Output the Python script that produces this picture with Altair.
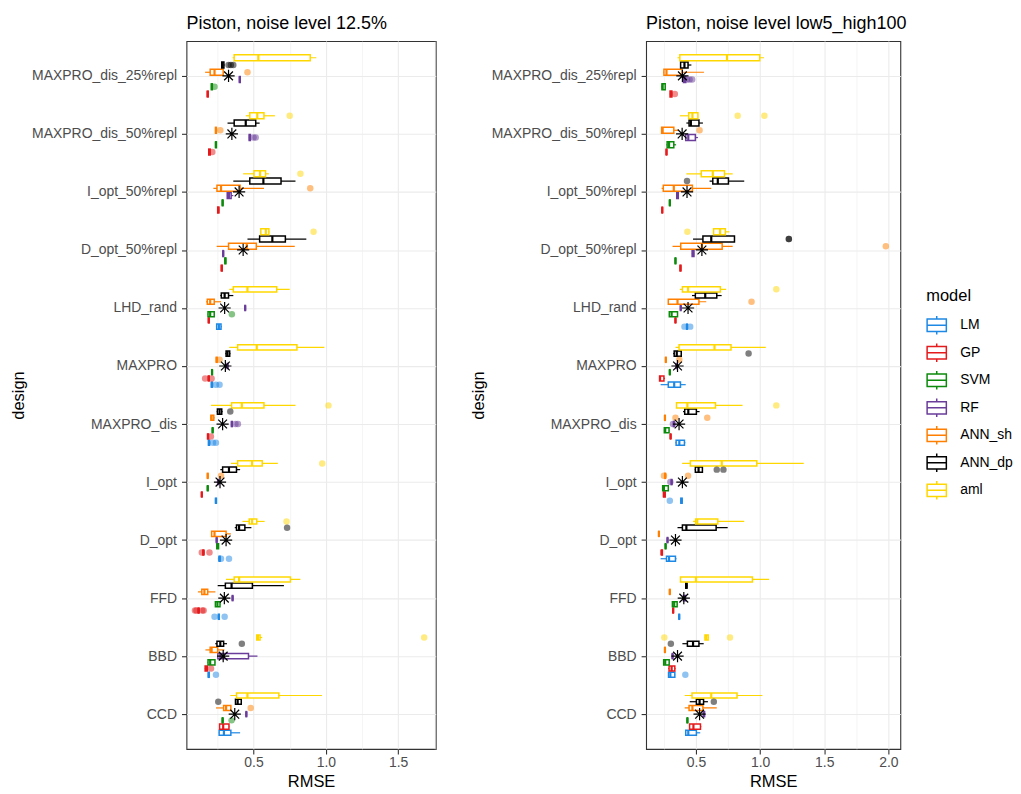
import json
import altair as alt
import pandas as pd

# ---------------- data ----------------
DESIGNS = ["MAXPRO_dis_25%repl", "MAXPRO_dis_50%repl", "I_opt_50%repl", "D_opt_50%repl",
           "LHD_rand", "MAXPRO", "MAXPRO_dis", "I_opt", "D_opt", "FFD", "BBD", "CCD"]
MODELS = ["LM", "GP", "SVM", "RF", "ANN_sh", "ANN_dp", "aml"]
COLORS = ["#1E88E5", "#E41A1C", "#0B8A0B", "#6A3D9A", "#FF7F00", "#000000", "#FFD700"]

TITLE_L = "Piston, noise level 12.5%"
TITLE_R = "Piston, noise level low5_high100"

# (lower whisker, q1, median, q3, upper whisker) per design, top to bottom
L_LM = [None, None, None, None,
        (0.24, 0.245, 0.26, 0.275, 0.28), (0.205, 0.208, 0.212, 0.216, 0.22),
        (0.185, 0.188, 0.192, 0.196, 0.2), (0.235, 0.237, 0.24, 0.243, 0.245),
        (0.26, 0.262, 0.265, 0.268, 0.27), (0.255, 0.257, 0.26, 0.263, 0.265),
        (0.185, 0.187, 0.19, 0.193, 0.195), (0.26, 0.262, 0.295, 0.343, 0.407)]
L_GP = [(0.178, 0.18, 0.183, 0.186, 0.188), (0.188, 0.19, 0.195, 0.2, 0.202),
        (0.25, 0.252, 0.256, 0.26, 0.262), (0.275, 0.277, 0.28, 0.283, 0.285),
        (0.186, 0.188, 0.19, 0.193, 0.195), (0.185, 0.187, 0.19, 0.193, 0.195),
        (0.18, 0.182, 0.185, 0.188, 0.19), (0.138, 0.14, 0.142, 0.144, 0.146),
        (0.148, 0.15, 0.153, 0.156, 0.158), (0.115, 0.117, 0.12, 0.123, 0.125),
        (0.163, 0.165, 0.172, 0.18, 0.183), (0.262, 0.265, 0.29, 0.33, 0.332)]
L_SVM = [(0.207, 0.208, 0.212, 0.215, 0.217), (0.235, 0.237, 0.24, 0.243, 0.245),
         (0.282, 0.284, 0.286, 0.288, 0.29), (0.3, 0.302, 0.305, 0.308, 0.31),
         (0.183, 0.185, 0.2, 0.228, 0.23), (0.209, 0.211, 0.213, 0.215, 0.217),
         (0.213, 0.215, 0.217, 0.219, 0.221), (0.179, 0.181, 0.183, 0.185, 0.187),
         (0.244, 0.246, 0.252, 0.258, 0.26), (0.234, 0.236, 0.25, 0.268, 0.27),
         (0.183, 0.185, 0.2, 0.233, 0.235), (0.282, 0.284, 0.286, 0.288, 0.29)]
L_RF = [(0.4, 0.402, 0.405, 0.408, 0.41), (0.468, 0.47, 0.474, 0.478, 0.48),
        (0.316, 0.318, 0.33, 0.345, 0.36), (0.286, 0.288, 0.29, 0.292, 0.294),
        (0.438, 0.44, 0.442, 0.444, 0.446), (0.316, 0.318, 0.32, 0.322, 0.324),
        (0.345, 0.347, 0.35, 0.353, 0.355), (0.25, 0.252, 0.255, 0.258, 0.26),
        (0.241, 0.243, 0.245, 0.247, 0.249), (0.351, 0.353, 0.355, 0.357, 0.359),
        (0.252, 0.253, 0.27, 0.465, 0.527), (0.446, 0.448, 0.45, 0.452, 0.454)]
L_ANN_SH = [(0.165, 0.2, 0.23, 0.29, 0.3), (0.235, 0.237, 0.24, 0.243, 0.245),
            (0.222, 0.247, 0.275, 0.407, 0.572), (0.245, 0.327, 0.453, 0.519, 0.785),
            (0.172, 0.18, 0.2, 0.228, 0.275), (0.24, 0.242, 0.245, 0.248, 0.25),
            (0.2, 0.205, 0.21, 0.225, 0.23), (0.179, 0.181, 0.183, 0.185, 0.187),
            (0.206, 0.21, 0.23, 0.31, 0.343), (0.115, 0.142, 0.16, 0.183, 0.236),
            (0.167, 0.2, 0.21, 0.252, 0.298), (0.24, 0.293, 0.31, 0.343, 0.343)]
L_ANN_DP = [(0.275, 0.28, 0.285, 0.295, 0.3), (0.32, 0.366, 0.446, 0.515, 0.542),
            (0.36, 0.474, 0.568, 0.69, 0.79), (0.458, 0.542, 0.63, 0.72, 0.865),
            (0.27, 0.277, 0.3, 0.327, 0.36), (0.305, 0.31, 0.32, 0.335, 0.34),
            (0.245, 0.25, 0.265, 0.28, 0.286), (0.27, 0.286, 0.33, 0.382, 0.407),
            (0.37, 0.382, 0.4, 0.44, 0.485), (0.252, 0.305, 0.348, 0.492, 0.71),
            (0.235, 0.247, 0.27, 0.293, 0.316), (0.373, 0.375, 0.39, 0.415, 0.419)]
L_AML = [(0.355, 0.366, 0.533, 0.892, 0.934), (0.446, 0.474, 0.526, 0.572, 0.648),
         (0.428, 0.503, 0.545, 0.583, 0.606), (0.545, 0.55, 0.585, 0.606, 0.61),
         (0.332, 0.36, 0.458, 0.66, 0.75), (0.332, 0.39, 0.522, 0.8, 0.99),
         (0.206, 0.348, 0.419, 0.572, 0.79), (0.343, 0.39, 0.49, 0.56, 0.668),
         (0.423, 0.47, 0.49, 0.522, 0.577), (0.309, 0.366, 0.4, 0.755, 0.824),
         (0.52, 0.522, 0.53, 0.545, 0.56), (0.339, 0.382, 0.458, 0.675, 0.973)]
L_OUT = [(0, "ANN_dp", 0.327), (0, "ANN_dp", 0.343), (0, "ANN_dp", 0.36), (0, "ANN_sh", 0.458),
         (0, "SVM", 0.23), (1, "aml", 0.75), (1, "ANN_sh", 0.27), (1, "RF", 0.5), (1, "RF", 0.515),
         (1, "GP", 0.215), (2, "aml", 0.824), (2, "ANN_sh", 0.892), (3, "aml", 0.915),
         (4, "SVM", 0.35), (5, "ANN_sh", 0.265), (5, "GP", 0.165), (5, "GP", 0.21),
         (5, "LM", 0.24), (5, "LM", 0.265), (6, "aml", 1.018), (6, "ANN_dp", 0.339),
         (6, "RF", 0.375), (6, "RF", 0.392), (6, "GP", 0.205), (6, "LM", 0.22), (6, "LM", 0.24),
         (7, "aml", 0.975), (7, "ANN_sh", 0.275), (8, "aml", 0.728), (8, "ANN_dp", 0.732),
         (8, "GP", 0.142), (8, "GP", 0.195), (8, "LM", 0.33), (8, "LM", 0.275),
         (9, "GP", 0.095), (9, "GP", 0.105), (9, "GP", 0.145), (9, "GP", 0.155),
         (9, "LM", 0.23), (9, "LM", 0.3), (10, "aml", 1.68), (10, "ANN_dp", 0.419),
         (10, "GP", 0.206), (10, "LM", 0.24), (11, "ANN_dp", 0.256), (11, "ANN_sh", 0.48),
         (11, "SVM", 0.348)]
L_STAR = [0.327, 0.35, 0.4, 0.428, 0.3, 0.305, 0.286, 0.268, 0.31, 0.298, 0.29, 0.37]

R_LM = [None, None, None, None,
        (0.425, 0.427, 0.43, 0.433, 0.435), (0.224, 0.284, 0.33, 0.379, 0.42),
        (0.34, 0.345, 0.37, 0.41, 0.417), (0.38, 0.382, 0.387, 0.392, 0.395),
        (0.224, 0.27, 0.29, 0.34, 0.348), (0.365, 0.367, 0.369, 0.371, 0.373),
        (0.284, 0.286, 0.3, 0.335, 0.337), (0.42, 0.42, 0.44, 0.503, 0.533)]
R_GP = [(0.296, 0.298, 0.305, 0.312, 0.315), (0.266, 0.268, 0.27, 0.272, 0.274),
        (0.233, 0.235, 0.237, 0.239, 0.241), (0.374, 0.376, 0.379, 0.382, 0.384),
        (0.336, 0.338, 0.34, 0.342, 0.344), (0.214, 0.216, 0.22, 0.25, 0.258),
        (0.298, 0.3, 0.302, 0.304, 0.306), (0.245, 0.247, 0.25, 0.26, 0.262),
        (0.228, 0.23, 0.232, 0.238, 0.24), (0.318, 0.32, 0.322, 0.324, 0.326),
        (0.284, 0.29, 0.31, 0.335, 0.34), (0.446, 0.45, 0.48, 0.535, 0.541)]
R_SVM = [(0.232, 0.235, 0.24, 0.26, 0.262), (0.27, 0.275, 0.29, 0.327, 0.345),
         (0.292, 0.294, 0.296, 0.298, 0.3), (0.336, 0.338, 0.34, 0.342, 0.344),
         (0.289, 0.292, 0.31, 0.356, 0.358), (0.292, 0.294, 0.296, 0.298, 0.3),
         (0.25, 0.253, 0.26, 0.29, 0.292), (0.237, 0.24, 0.25, 0.284, 0.286),
         (0.259, 0.261, 0.263, 0.265, 0.267), (0.314, 0.316, 0.33, 0.353, 0.355),
         (0.245, 0.248, 0.26, 0.291, 0.293), (0.429, 0.431, 0.433, 0.435, 0.437)]
R_RF = [(0.4, 0.402, 0.41, 0.42, 0.425), (0.418, 0.42, 0.44, 0.495, 0.515),
        (0.348, 0.35, 0.356, 0.362, 0.365), (0.468, 0.47, 0.477, 0.484, 0.486),
        (0.377, 0.379, 0.381, 0.383, 0.385), (0.344, 0.346, 0.348, 0.35, 0.352),
        (0.323, 0.325, 0.327, 0.329, 0.331), (0.306, 0.308, 0.31, 0.312, 0.314),
        (0.274, 0.276, 0.278, 0.28, 0.282), (0.4, 0.402, 0.41, 0.418, 0.42),
        (0.313, 0.315, 0.317, 0.319, 0.321), (0.555, 0.557, 0.562, 0.567, 0.569)]
R_ANN_SH = [(0.245, 0.25, 0.27, 0.392, 0.562), (0.232, 0.232, 0.24, 0.327, 0.361),
            (0.232, 0.245, 0.327, 0.472, 0.619), (0.317, 0.381, 0.546, 0.704, 0.786),
            (0.284, 0.284, 0.356, 0.523, 0.58), (0.261, 0.263, 0.265, 0.267, 0.269),
            (0.254, 0.256, 0.258, 0.26, 0.262), (0.256, 0.258, 0.26, 0.262, 0.264),
            (0.207, 0.209, 0.211, 0.213, 0.215), (0.292, 0.294, 0.296, 0.298, 0.3),
            (0.254, 0.256, 0.258, 0.26, 0.262), (0.412, 0.446, 0.472, 0.554, 0.662)]
R_ANN_DP = [(0.378, 0.38, 0.41, 0.438, 0.464), (0.425, 0.446, 0.46, 0.523, 0.554),
            (0.606, 0.631, 0.67, 0.753, 0.876), (0.477, 0.554, 0.619, 0.8, 0.8),
            (0.469, 0.495, 0.572, 0.662, 0.7), (0.322, 0.33, 0.35, 0.385, 0.387),
            (0.399, 0.412, 0.44, 0.503, 0.528), (0.49, 0.495, 0.52, 0.55, 0.554),
            (0.356, 0.394, 0.425, 0.657, 0.747), (0.418, 0.42, 0.425, 0.43, 0.432),
            (0.394, 0.433, 0.477, 0.523, 0.56), (0.451, 0.503, 0.528, 0.559, 0.593)]
R_AML = [(0.356, 0.374, 0.742, 0.997, 1.03), (0.374, 0.443, 0.472, 0.515, 0.515),
         (0.425, 0.541, 0.631, 0.722, 0.786), (0.637, 0.637, 0.688, 0.729, 0.76),
         (0.374, 0.394, 0.438, 0.69, 0.735), (0.34, 0.368, 0.644, 0.773, 1.044),
         (0.348, 0.348, 0.433, 0.652, 0.863), (0.392, 0.456, 0.701, 0.974, 1.34),
         (0.477, 0.497, 0.51, 0.67, 0.876), (0.379, 0.379, 0.5, 0.94, 1.07),
         (0.567, 0.57, 0.58, 0.595, 0.6), (0.412, 0.469, 0.619, 0.82, 1.018)]
R_OUT = [(0, "RF", 0.43), (0, "RF", 0.45), (0, "RF", 0.47), (0, "GP", 0.335),
         (1, "aml", 0.825), (1, "aml", 1.033), (1, "ANN_sh", 0.528), (2, "ANN_dp", 0.43),
         (3, "aml", 0.433), (3, "ANN_dp", 1.224), (3, "ANN_dp", 1.224), (3, "ANN_sh", 1.98),
         (4, "aml", 1.126), (4, "ANN_sh", 0.933), (4, "LM", 0.41), (4, "LM", 0.455),
         (5, "ANN_dp", 0.91), (5, "ANN_sh", 0.37), (6, "aml", 1.126), (6, "ANN_sh", 0.34),
         (6, "ANN_sh", 0.588), (6, "RF", 0.32), (7, "ANN_dp", 0.662), (7, "ANN_dp", 0.714),
         (7, "ANN_sh", 0.25), (7, "ANN_sh", 0.438), (7, "RF", 0.3), (7, "LM", 0.296),
         (10, "aml", 0.253), (10, "aml", 0.765), (10, "ANN_dp", 0.304), (10, "LM", 0.417),
         (11, "ANN_dp", 0.639)]
R_STAR = [0.394, 0.392, 0.43, 0.546, 0.438, 0.356, 0.368, 0.394, 0.34, 0.405, 0.356, 0.528]

L_STATS = dict(zip(MODELS, [L_LM, L_GP, L_SVM, L_RF, L_ANN_SH, L_ANN_DP, L_AML]))
R_STATS = dict(zip(MODELS, [R_LM, R_GP, R_SVM, R_RF, R_ANN_SH, R_ANN_DP, R_AML]))

# ---------------- layout helpers ----------------
DODGE = 0.75      # total dodge width per design (ggplot position_dodge)
BOXFRAC = 0.82    # box thickness relative to a dodge slot
ND = len(DESIGNS)


def build(stats, outliers, stars):
    rows, ypos = [], {}
    for i, d in enumerate(DESIGNS):
        present = [m for m in MODELS if stats[m][i] is not None]
        n = len(present)
        slot = DODGE / n
        base = ND - 1 - i
        for k, m in enumerate(present):
            yc = base + (k - (n - 1) / 2) * slot
            lo, q1, med, q3, hi = stats[m][i]
            ypos[(i, m)] = yc
            rows.append(dict(design=d, model=m, lo=lo, q1=q1, med=med, q3=q3, hi=hi,
                             y=yc, y0=yc - BOXFRAC * slot / 2, y1=yc + BOXFRAC * slot / 2))
    out = pd.DataFrame([dict(model=m, value=v, y=ypos[(i, m)]) for i, m, v in outliers])
    st = pd.DataFrame([dict(design=d, value=v, y=ND - 1 - i) for i, (d, v) in enumerate(zip(DESIGNS, stars))])
    return pd.DataFrame(rows), out, st


FONT = "Liberation Sans"
ASTER = "M-1,0H1M0,-1V1M-0.72,-0.72L0.72,0.72M-0.72,0.72L0.72,-0.72"
# boxplot key glyph made only of line segments (no filled area)
BOXGLYPH = ("M-1.07,-0.64H1.07 M1,-0.64V0.64 M1.07,0.64H-1.07 M-1,0.64V-0.64 "
            "M-1,0H1 M0,-0.64V-0.96 M0,0.64V0.96")
YLABELS = json.dumps(list(reversed(DESIGNS))) + "[datum.value]"
MAJOR = "datum.value % 0.5 == 0"

legend = alt.Legend(title="model", orient="none", legendX=742, legendY=248, direction="vertical",
                    symbolType=BOXGLYPH, symbolSize=372, symbolStrokeWidth=1.5, symbolOpacity=1,
                    symbolFillColor="white", labelFontSize=14, labelFont=FONT, labelColor="black",
                    titleFontSize=16.5, titleFont=FONT, titleFontWeight="normal", titleColor="black",
                    labelOffset=13, rowPadding=2.6, titlePadding=10)


def panel(stats, outliers, stars, title, domain, ticks, width):
    box_df, out_df, star_df = build(stats, outliers, stars)
    xs = alt.Scale(domain=domain, nice=False, zero=False)
    ys = alt.Scale(domain=[-0.6, ND - 0.4], nice=False, zero=False)
    xaxis = alt.Axis(values=ticks, labelExpr=f"{MAJOR} ? format(datum.value, '.1f') : ''",
                     labelOverlap=False, labelFlush=False,
                     gridWidth={"condition": {"test": MAJOR, "value": 1.1}, "value": 0.55},
                     tickOpacity={"condition": {"test": MAJOR, "value": 1}, "value": 0},
                     labelPadding=2, titlePadding=4)
    yaxis = alt.Axis(values=list(range(ND)), labelExpr=YLABELS, labelPadding=5, titlePadding=5,
                     gridWidth=1.1)

    def X(f):
        return alt.X(f, type="quantitative", scale=xs, axis=xaxis, title="RMSE")

    def Y(f):
        return alt.Y(f, type="quantitative", scale=ys, axis=yaxis, title="design")

    col = alt.Color("model:N", scale=alt.Scale(domain=MODELS, range=COLORS), legend=legend)
    fill = alt.Fill("model:N", scale=alt.Scale(domain=MODELS, range=COLORS), legend=None)
    base = alt.Chart(box_df)
    whisk = base.mark_rule(strokeWidth=1.2).encode(x=X("lo"), x2="hi", y=Y("y"), color=col)
    boxbg = base.mark_rect(color="white").encode(x=X("q1"), x2="q3", y=Y("y0"), y2="y1")
    box = base.mark_rect(filled=False, strokeWidth=1.5).encode(
        x=X("q1"), x2="q3", y=Y("y0"), y2="y1", color=col)
    med = base.mark_rule(strokeWidth=2.2).encode(x=X("med"), y=Y("y0"), y2="y1", color=col)
    outl = alt.Chart(out_df).mark_circle(size=42, opacity=0.5).encode(x=X("value"), y=Y("y"), fill=fill)
    star = alt.Chart(star_df).mark_point(shape=ASTER, size=150, filled=False, stroke="black",
                                         strokeWidth=1.2, opacity=1).encode(x=X("value"), y=Y("y"))
    return alt.layer(whisk, boxbg, box, med, outl, star).properties(
        width=width, height=710,
        title=alt.Title(title, anchor="start", frame="group", fontSize=18, font=FONT,
                        fontWeight="normal", color="black", offset=8))


left = panel(L_STATS, L_OUT, L_STAR, TITLE_L, [0.036, 1.76],
             [0.25, 0.5, 0.75, 1.0, 1.25, 1.5, 1.75], 250)
right = panel(R_STATS, R_OUT, R_STAR, TITLE_R, [0.111, 2.093],
              [0.25, 0.5, 0.75, 1.0, 1.25, 1.5, 1.75, 2.0], 255)

chart = alt.hconcat(left, right, spacing=32).properties(
    padding={"left": 1, "top": 5, "right": 0, "bottom": 5}
).configure(font=FONT).configure_view(
    stroke="#333333", strokeWidth=1.1
).configure_axis(
    domain=False, grid=True, gridColor="#EBEBEB", tickColor="#333333", tickSize=5, tickWidth=1.1,
    labelFont=FONT, labelFontSize=14, labelColor="#4D4D4D",
    titleFont=FONT, titleFontSize=16.5, titleFontWeight="normal", titleColor="black"
)

chart.save("out.html", embed_options={"renderer": "svg", "actions": False})
